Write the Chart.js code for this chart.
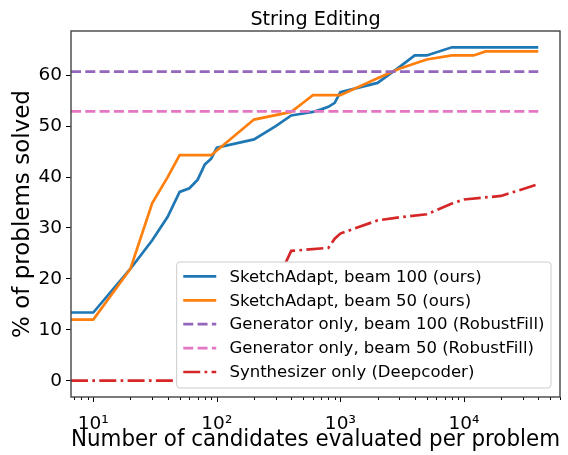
<!DOCTYPE html>
<html>
<head>
<meta charset="utf-8">
<script src="https://cdn.jsdelivr.net/npm/chart.js@4.4.0/dist/chart.umd.min.js"></script>
<style>
  html, body { margin: 0; padding: 0; background: #fff; }
  #wrap { width: 568px; height: 455px; }
</style>
</head>
<body>
<div id="wrap"><canvas id="chart" width="568" height="455"></canvas></div>
<script>
const chartTitle = "String Editing";
const xTitle = "Number of candidates evaluated per problem";
const yTitle = "% of problems solved";

const seriesNames = [
  "SketchAdapt, beam 100 (ours)",
  "SketchAdapt, beam 50 (ours)",
  "Generator only, beam 100 (RobustFill)",
  "Generator only, beam 50 (RobustFill)",
  "Synthesizer only (Deepcoder)"
];

// candidates evaluated (x) and % solved (y)
const beam100X = [6.6, 10, 20, 30, 40, 50, 60, 70, 80, 90, 100, 200, 300, 400, 500, 600, 700, 800, 900, 1000, 2000, 3000, 4000, 5000, 8000, 40000];
const beam100Y = [13.4, 13.4, 22.0, 27.6, 32.2, 37.1, 37.8, 39.5, 42.5, 43.6, 45.8, 47.4, 50.0, 52.1, 52.5, 52.8, 53.3, 53.8, 54.6, 56.7, 58.5, 61.6, 63.9, 63.9, 65.5, 65.5];

const beam50X = [6.6, 10, 20, 30, 40, 50, 90, 200, 400, 500, 600, 1000, 2000, 3000, 4000, 5000, 8000, 12000, 15000, 40000];
const beam50Y = [12.0, 12.0, 22.0, 34.9, 40.0, 44.3, 44.3, 51.3, 52.8, 54.6, 56.1, 56.1, 59.4, 61.3, 62.3, 63.1, 63.9, 63.9, 64.7, 64.7];

const genX = [6.6, 40000];
const gen100Y = [60.7, 60.7];
const gen50Y = [52.9, 52.9];

const deepX = [6.6, 100, 200, 300, 400, 800, 900, 1000, 2000, 3000, 5000, 8000, 10000, 20000, 40000];
const deepY = [0, 0, 10, 19, 25.5, 26.1, 27.9, 28.9, 31.5, 32.1, 32.7, 34.8, 35.6, 36.3, 38.6];

const xTickMin = 6.6, xTickMax = 60000;
const yMin = -3.2, yMax = 68.7;

const colors = ['#1f77b4', '#ff7f0e', '#9467bd', '#e377c2', '#d62728'];
const dashes = [[], [], [10, 4.3], [10, 4.3], [17, 4.3, 2.7, 4.3]];

function pts(xs, ys) {
  return xs.map((x, i) => ({ x: x, y: ys[i] }));
}

const seriesData = [
  pts(beam100X, beam100Y),
  pts(beam50X, beam50Y),
  pts(genX, gen100Y),
  pts(genX, gen50Y),
  pts(deepX, deepY)
];

const FONT = '"DejaVu Sans"';
Chart.defaults.font.family = FONT;
Chart.defaults.color = '#000';

const sup = { 1: '\u00b9', 2: '\u00b2', 3: '\u00b3', 4: '\u2074', 5: '\u2075' };

// title, frame, x tick marks and the boxed legend, drawn like matplotlib does
const plotDecor = {
  id: 'plotDecor',
  afterDatasetsDraw(chart) {
    const { ctx, chartArea: a } = chart;
    const xs = chart.scales.x;
    ctx.save();

    ctx.strokeStyle = '#000';
    ctx.lineWidth = 1;
    for (let e = 0; e <= 5; e++) {
      for (let m = 1; m <= 9; m++) {
        const v = m * Math.pow(10, e);
        if (v < xs.min || v > xs.max) continue;
        const px = Math.round(xs.getPixelForValue(v)) + 0.5;
        ctx.beginPath();
        ctx.moveTo(px, a.bottom);
        ctx.lineTo(px, a.bottom + (m === 1 ? 5 : 3));
        ctx.stroke();
      }
    }

    ctx.strokeStyle = '#444';
    ctx.lineWidth = 1.4;
    ctx.strokeRect(a.left, a.top, a.right - a.left, a.bottom - a.top);

    // legend
    const fs = 16.5;
    ctx.font = fs + 'px ' + FONT;
    const sets = chart.data.datasets;
    let maxW = 0;
    sets.forEach(d => { maxW = Math.max(maxW, ctx.measureText(d.label).width); });
    const pad = 0.4 * fs, handle = 2 * fs, textPad = 0.8 * fs, rowH = 23.9;
    const right = a.right - 9, bottom = a.bottom - 9;
    const w = pad + handle + textPad + maxW + pad;
    const h = 126;
    const left = right - w, top = bottom - h;
    ctx.beginPath();
    ctx.roundRect(left, top, w, h, 3.3);
    ctx.fillStyle = '#fff';
    ctx.fill();
    ctx.strokeStyle = '#cccccc';
    ctx.lineWidth = 1;
    ctx.stroke();

    ctx.textAlign = 'left';
    ctx.textBaseline = 'middle';
    sets.forEach((d, i) => {
      const cy = top + 14.4 + i * rowH;
      ctx.beginPath();
      ctx.setLineDash(d.borderDash || []);
      ctx.lineDashOffset = 0;
      ctx.strokeStyle = d.borderColor;
      ctx.lineWidth = d.borderWidth;
      ctx.lineCap = 'butt';
      ctx.moveTo(left + pad, cy);
      ctx.lineTo(left + pad + handle, cy);
      ctx.stroke();
      ctx.setLineDash([]);
      ctx.fillStyle = '#000';
      ctx.fillText(d.label, left + pad + handle + textPad, cy + 1);
    });
    ctx.restore();
  },
  afterDraw(chart) {
    const { ctx, chartArea: a } = chart;
    ctx.save();
    ctx.font = '19.2px ' + FONT;
    ctx.fillStyle = '#000';
    ctx.textAlign = 'center';
    ctx.textBaseline = 'alphabetic';
    ctx.fillText(chartTitle, (a.left + a.right) / 2, 24.5);
    ctx.restore();
  }
};

new Chart(document.getElementById('chart'), {
  type: 'line',
  data: {
    datasets: seriesNames.map((name, i) => ({
      label: name,
      data: seriesData[i],
      borderColor: colors[i],
      backgroundColor: colors[i],
      borderWidth: 2.7,
      borderDash: dashes[i],
      borderCapStyle: 'butt',
      pointRadius: 0,
      tension: 0,
      fill: false,
      order: seriesNames.length - i
    }))
  },
  options: {
    responsive: false,
    animation: false,
    devicePixelRatio: 1,
    layout: { padding: { top: 31, right: 5, left: 0, bottom: 0 } },
    plugins: {
      legend: { display: false },
      tooltip: { enabled: false },
      title: { display: false }
    },
    scales: {
      x: {
        type: 'logarithmic',
        min: xTickMin,
        max: xTickMax,
        grid: { display: false },
        border: { display: false },
        ticks: {
          autoSkip: false,
          maxRotation: 0,
          padding: 8,
          font: { size: 18.5 },
          callback: function (v) {
            const l = Math.log10(v);
            if (Math.abs(l - Math.round(l)) < 1e-9) return '10' + sup[Math.round(l)];
            return '';
          }
        },
        title: {
          display: true,
          text: xTitle,
          font: { size: 23 },
          padding: { top: 0, bottom: 1 }
        },
        afterFit: s => { s.height = 58; }
      },
      y: {
        type: 'linear',
        min: yMin,
        max: yMax,
        grid: { display: true, drawOnChartArea: false, drawTicks: true, tickLength: 5, tickColor: '#000', tickWidth: 1 },
        border: { display: false },
        ticks: { stepSize: 10, includeBounds: false, padding: 4, font: { size: 18.5 } },
        title: {
          display: true,
          text: yTitle,
          font: { size: 23 },
          padding: { top: 9, bottom: 0 }
        },
        afterFit: s => { s.width = 71; }
      }
    }
  },
  plugins: [plotDecor]
});
</script>
</body>
</html>
